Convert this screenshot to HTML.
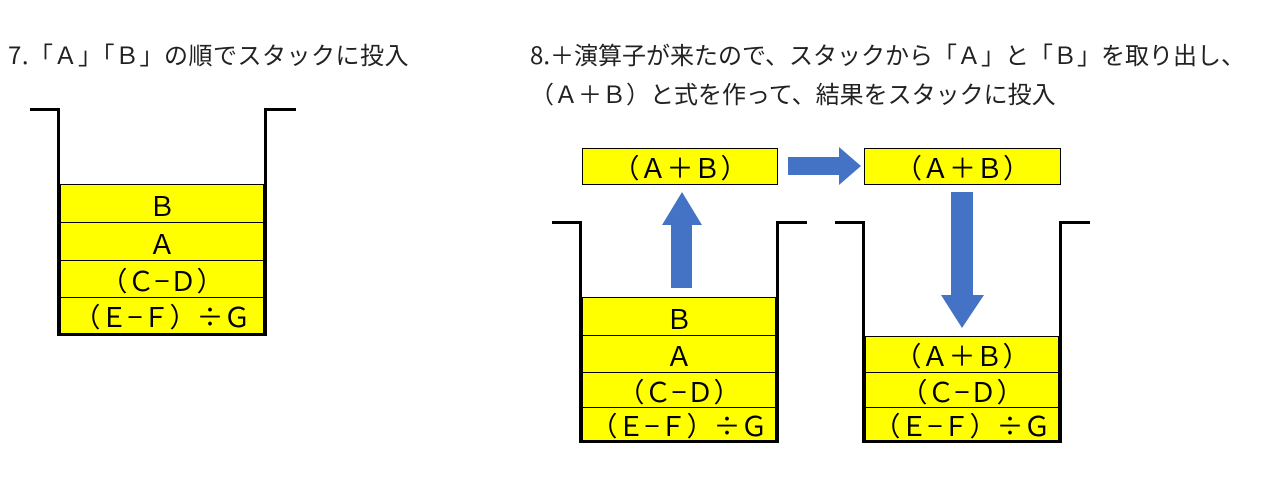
<!DOCTYPE html>
<html><head><meta charset="utf-8"><style>
body{margin:0;width:1274px;height:478px;background:#fff;position:relative;overflow:hidden;font-family:"Noto Sans CJK JP",sans-serif;}
.t{position:absolute;font-size:24px;color:#222;white-space:nowrap;line-height:1;font-family:"Noto Sans CJK JP",sans-serif;}
.b{position:absolute;background:#000;}
.r{position:absolute;background:#ffff00;border:1px solid #000;box-sizing:border-box;text-align:center;font-size:27px;color:#000;font-family:"Noto Sans CJK JP",sans-serif;white-space:nowrap;}
</style></head><body>
<div class="t" style="left:8px;top:42px;letter-spacing:0.5px">7.「Ａ」「Ｂ」の順でスタックに投入</div>
<div class="t" style="left:530px;top:42px;">8.＋演算子が来たので、スタックから「Ａ」と「Ｂ」を取り出し、</div>
<div class="t" style="left:530px;top:81px;">（Ａ＋Ｂ）と式を作って、結果をスタックに投入</div>

<!-- stack 1 -->
<div class="b" style="left:30px;top:108px;width:30px;height:3px"></div>
<div class="b" style="left:57px;top:108px;width:3px;height:228px"></div>
<div class="b" style="left:264px;top:108px;width:3px;height:228px"></div>
<div class="b" style="left:264px;top:108px;width:32px;height:3px"></div>
<div class="b" style="left:57px;top:333px;width:210px;height:3px"></div>
<div class="r" style="left:60px;top:184px;width:204px;height:39px;line-height:39px">Ｂ</div>
<div class="r" style="left:60px;top:222px;width:204px;height:39px;line-height:39px">Ａ</div>
<div class="r" style="left:60px;top:260px;width:204px;height:38px;line-height:37px">（Ｃ−Ｄ）</div>
<div class="r" style="left:60px;top:297px;width:204px;height:37px;line-height:36px">（Ｅ−Ｆ）÷Ｇ</div>

<!-- stack 2 -->
<div class="b" style="left:552px;top:221px;width:30px;height:3px"></div>
<div class="b" style="left:579px;top:221px;width:3px;height:222px"></div>
<div class="b" style="left:776px;top:221px;width:3px;height:222px"></div>
<div class="b" style="left:776px;top:221px;width:31px;height:3px"></div>
<div class="b" style="left:579px;top:440px;width:200px;height:3px"></div>
<div class="r" style="left:582px;top:297px;width:194px;height:39px;line-height:39px">Ｂ</div>
<div class="r" style="left:582px;top:335px;width:194px;height:38px;line-height:38px">Ａ</div>
<div class="r" style="left:582px;top:372px;width:194px;height:36px;line-height:35px">（Ｃ−Ｄ）</div>
<div class="r" style="left:582px;top:407px;width:194px;height:34px;line-height:34px">（Ｅ−Ｆ）÷Ｇ</div>

<!-- stack 3 -->
<div class="b" style="left:835px;top:221px;width:30px;height:3px"></div>
<div class="b" style="left:862px;top:221px;width:3px;height:222px"></div>
<div class="b" style="left:1059px;top:221px;width:3px;height:222px"></div>
<div class="b" style="left:1059px;top:221px;width:31px;height:3px"></div>
<div class="b" style="left:862px;top:440px;width:200px;height:3px"></div>
<div class="r" style="left:865px;top:336px;width:194px;height:37px;line-height:36px">（Ａ＋Ｂ）</div>
<div class="r" style="left:865px;top:372px;width:194px;height:36px;line-height:35px">（Ｃ−Ｄ）</div>
<div class="r" style="left:865px;top:407px;width:194px;height:34px;line-height:34px">（Ｅ−Ｆ）÷Ｇ</div>

<!-- top boxes -->
<div class="r" style="left:582px;top:148px;width:196px;height:37px;line-height:36px">（Ａ＋Ｂ）</div>
<div class="r" style="left:864px;top:148px;width:197px;height:37px;line-height:36px">（Ａ＋Ｂ）</div>

<svg style="position:absolute;left:0;top:0" width="1274" height="478">
<polygon points="788,157 839,157 839,147 861,166 839,185 839,175 788,175" fill="#4472c4"/>
<polygon points="671,288 671,225 662,225 682,192 702,225 692,225 692,288" fill="#4472c4"/>
<polygon points="951,192 973,192 973,295 984,295 962,328 941,295 951,295" fill="#4472c4"/>
</svg>
</body></html>
